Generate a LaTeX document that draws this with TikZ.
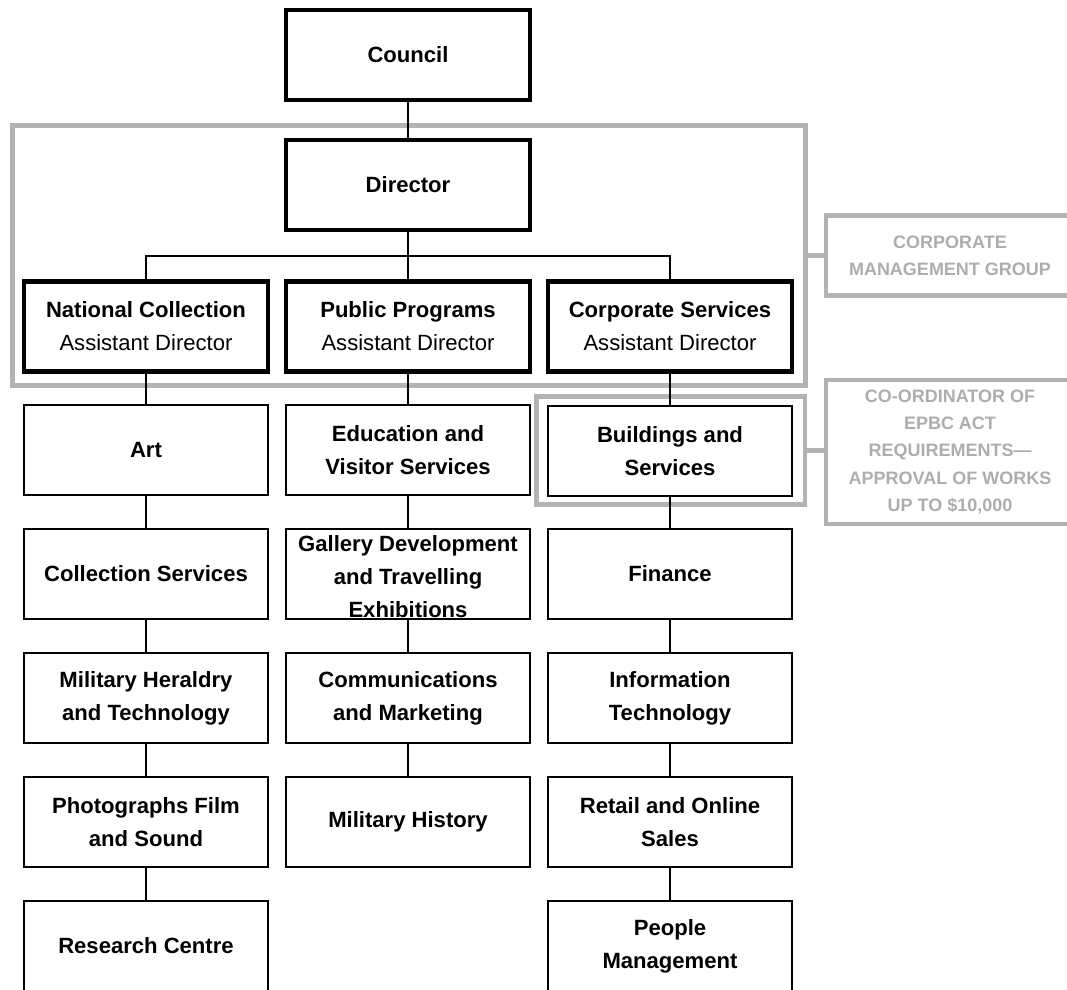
\documentclass[tikz,border=0pt]{standalone}
\usepackage{fontspec}
\setmainfont{Liberation Sans}
\definecolor{framegray}{HTML}{B3B3B3}
\definecolor{notegray}{HTML}{ADADAD}
\newcommand{\boxfont}{\fontsize{15.7}{23.5}\selectfont}
\newcommand{\notefont}{\fontsize{12.8}{19.5}\selectfont\bfseries}
\tikzset{every picture/.style={line width=0.75pt}}
\tikzset{
  box/.style={draw, line width=1pt, inner sep=0pt, minimum width=6.1cm, minimum height=2.25cm, align=center, font=\boxfont},
  headbox/.style={box, line width=3.4pt},
  unit/.style={box, font=\boxfont\bfseries},
  frame/.style={draw=framegray, line width=3.5pt, inner sep=0pt},
  note/.style={frame, text=notegray, minimum width=6.2cm, align=center, font=\notefont},
  link/.style={line width=0.8pt},
  notelink/.style={framegray, line width=3.5pt}
}

\begin{document}
\begin{tikzpicture}[x=0.025cm, y=-0.025cm]
    \useasboundingbox (0,0) rectangle (1067,989);

    % grey frames round the management group and the works co-ordinator
    \node[frame, minimum width=19.81cm, minimum height=6.49cm] (cmgframe) at (408.75,255.75) {};
    \node[frame, minimum width=6.71cm, minimum height=2.7cm] (bsframe) at (670.75,450.5) {};

    % top of the chart
    \node[headbox] (council) at (408,55) {\textbf{Council}};
    \node[headbox] (director) at (408,185) {\textbf{Director}};

    % assistant directors
    \node[headbox] (natcoll) at (146,326.5) {\textbf{National Collection}\\Assistant Director};
    \node[headbox] (pubprog) at (408,326.5) {\textbf{Public Programs}\\Assistant Director};
    \node[headbox] (corpserv) at (670,326.5) {\textbf{Corporate Services}\\Assistant Director};

    % National Collection branch
    \node[unit] (art) at (146,450) {Art};
    \node[unit] (collserv) at (146,574) {Collection Services};
    \node[unit] (heraldry) at (146,698) {Military Heraldry\\and Technology};
    \node[unit] (photo) at (146,822) {Photographs Film\\and Sound};
    \node[unit] (research) at (146,946) {Research Centre};

    % Public Programs branch
    \node[unit] (edu) at (408,450) {Education and\\Visitor Services};
    \node[unit] (gallery) at (408,574) {\raisebox{-0.4em}[0pt][0pt]{\begin{tabular}{@{}c@{}}Gallery Development\\and Travelling\\Exhibitions\end{tabular}}};
    \node[unit] (comms) at (408,698) {Communications\\and Marketing};
    \node[unit] (milhist) at (408,822) {Military History};

    % Corporate Services branch
    \node[unit] (buildings) at (670,451) {Buildings and\\Services};
    \node[unit] (finance) at (670,574) {Finance};
    \node[unit] (infotech) at (670,698) {Information\\Technology};
    \node[unit] (retail) at (670,822) {Retail and Online\\Sales};
    \node[unit] (people) at (670,946) {People\\Management};

    % side notes
    \node[note, minimum height=2cm] (cmg) at (950,255.75) {CORPORATE\\MANAGEMENT GROUP};
    \node[note, minimum height=3.6cm] (epbc) at (950,452) {CO-ORDINATOR OF\\EPBC ACT\\REQUIREMENTS---\\APPROVAL OF WORKS\\UP TO \$10,000};
    \draw[notelink] (cmgframe.east) -- (cmgframe.east -| cmg.west);
    \draw[notelink] (bsframe.east) -- (bsframe.east -| epbc.west);

    % reporting lines
    \coordinate (bar) at (408,256);
    \draw[link] (council) -- (director);
    \draw[link] (director) -- (pubprog);
    \draw[link] (natcoll.north) |- (bar) -| (corpserv.north);
    \foreach \a/\b in {natcoll/art, art/collserv, collserv/heraldry, heraldry/photo, photo/research,
                       pubprog/edu, edu/gallery, gallery/comms, comms/milhist,
                       corpserv/buildings, buildings/finance, finance/infotech, infotech/retail, retail/people}
        \draw[link] (\a) -- (\b);
\end{tikzpicture}
\end{document}
